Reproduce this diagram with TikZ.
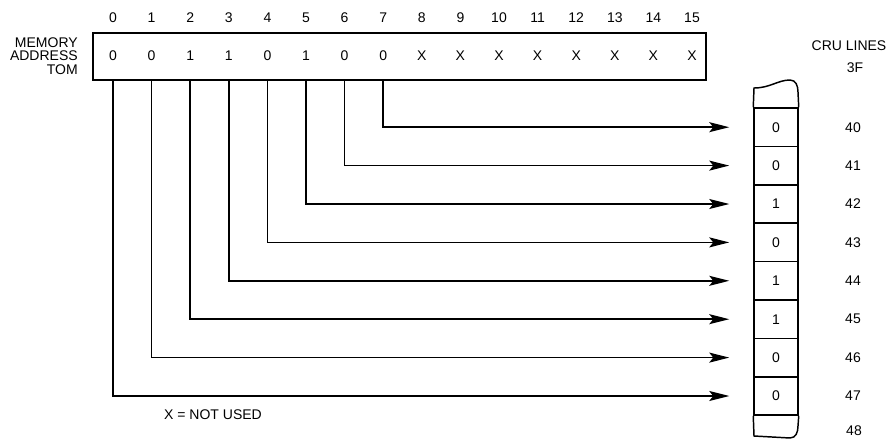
\documentclass[tikz,border=0pt]{standalone}
\usepackage{fontspec}
\setmainfont{Liberation Sans}
\usetikzlibrary{arrows.meta}
\begin{document}
\begin{tikzpicture}[x=0.75pt,y=-0.75pt,
  every node/.style={font=\fontsize{10.5}{12}\selectfont, inner sep=0pt},
  reg/.style={draw, line width=1.1pt, minimum width=459.75pt, minimum height=35.25pt},
  cell/.style={draw, line width=1.1pt, minimum width=33pt, minimum height=28.8pt},
  wire/.style={line width=1.1pt, -{Stealth[length=15pt,width=7.5pt,inset=3pt]}},
  part/.style={line width=1.1pt}]
\useasboundingbox (0,0) rectangle (894,439);
% register
\node[reg] (reg) at (399.5,56.5) {};
\node[align=right, anchor=east] (lab) at (78,56) {MEMORY\\[-2pt]ADDRESS\\[-2pt]TOM};
\foreach \i/\v in {0/0,1/0,2/1,3/1,4/0,5/1,6/0,7/0,8/X,9/X,10/X,11/X,12/X,13/X,14/X,15/X}{
  \node (h\i) at ({113+38.6*\i},18) {\i};
  \node (v\i) at ({113+38.6*\i},56) {\v};
}
% CRU cells
\foreach \k/\v in {0/0,1/0,2/1,3/0,4/1,5/1,6/0,7/0}{
  \node[cell] (c\k) at (776,{127.2+38.4*\k}) {\v};
  \pgfmathtruncatemacro{\n}{40+\k}
  \node (n\k) at (853,{127.2+38.4*\k}) {\n};
}
\node (n3f) at (855,68) {3F};
\node (cru) at (849,46) {CRU LINES};
\node (n48) at (854,431) {48};
% top and bottom partial cells
\draw[part] (c0.north west) -- (754,88) .. controls (770,88) and (778,80) .. (790,80)
  .. controls (796,80) and (798,86) .. (798,92) -- (c0.north east);
\draw[part] (c7.south west) -- (754,436) -- (790,438)
  .. controls (796,438) and (798,432) .. (798,426) -- (c7.south east);
% wires
\foreach \i/\k in {7/0,6/1,5/2,4/3,3/4,2/5,1/6,0/7}{
  \draw[wire] (v\i |- reg.south) |- ([xshift=-18pt]c\k.west);
}
\node (note) at (213,415) {X = NOT USED};
\end{tikzpicture}
\end{document}
